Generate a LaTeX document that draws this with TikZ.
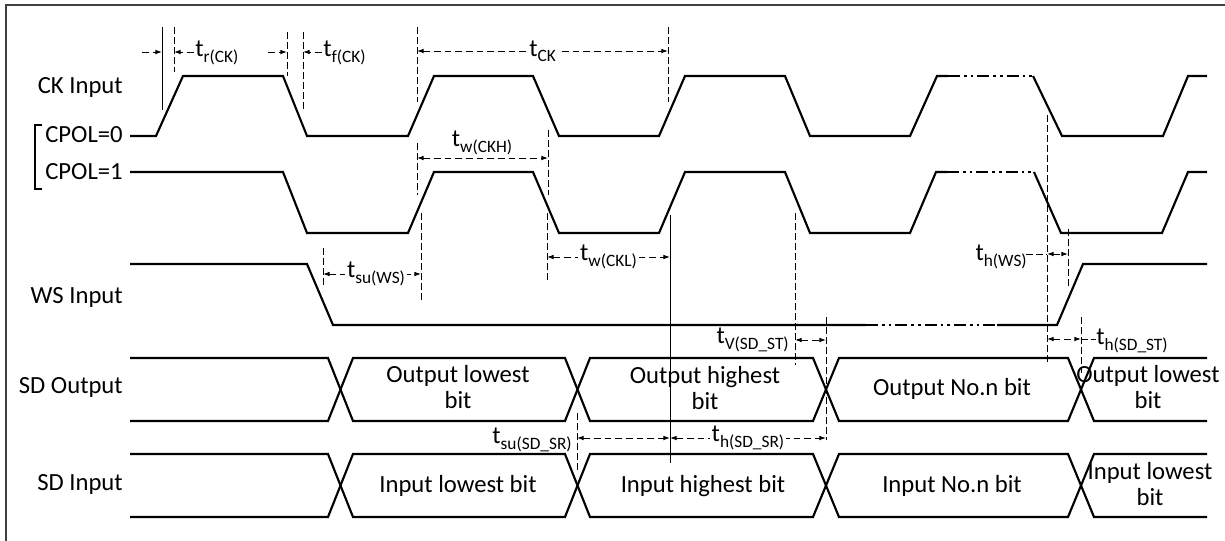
\documentclass[tikz,border=0pt]{standalone}
\usepackage{fontspec}
\setmainfont{Carlito}
\usetikzlibrary{arrows.meta}
\newcommand\tm[1]{t\raisebox{-4pt}{\fontsize{13}{13}\selectfont #1}}
\begin{document}
\begin{tikzpicture}[x=0.75pt,y=-0.75pt,
  sig/.style={line width=1.6pt, line join=miter},
  dd/.style={line width=1.6pt, dash pattern=on 9pt off 3pt on 2pt off 3pt on 2pt off 3pt},
  guide/.style={line width=0.7pt, dash pattern=on 5pt off 2.5pt},
  solidguide/.style={line width=0.7pt},
  dim/.style={line width=0.7pt, dash pattern=on 5pt off 3pt, {Latex[length=5pt,width=3.5pt]}-{Latex[length=5pt,width=3.5pt]}},
  rarr/.style={line width=0.7pt, dash pattern=on 5pt off 3pt, -{Latex[length=5pt,width=3.5pt]}},
  lbl/.style={font=\fontsize{18.5}{20}\selectfont, inner sep=0pt},
  dlbl/.style={font=\fontsize{18.5}{20}\selectfont, inner sep=0pt, align=center},
  tlab/.style={font=\fontsize{18.5}{20}\selectfont, inner sep=1.5pt},
  frame/.style={line width=1.1pt, draw=black!75}
]
\useasboundingbox (0,0) rectangle (1225,540);
\draw[frame] (6,545) -- (6,5) -- (1235,5);

% signal labels
\node[lbl,anchor=east] (ck) at (123,87) {CK Input};
\node[lbl,anchor=east] (c0) at (123,135) {CPOL=0};
\node[lbl,anchor=east] (c1) at (123,172) {CPOL=1};
\node[lbl,anchor=east] (ws) at (123,297) {WS Input};
\node[lbl,anchor=east] (sdo) at (123,387) {SD Output};
\node[lbl,anchor=east] (sdi) at (123,484) {SD Input};
\draw[line width=1.4pt] (42,125) -- (35,125) -- (35,189) -- (42,189);

% CK, CPOL=0
\draw[sig] (130,136) -- (156,136) -- (183,76) -- (283,76) -- (307,136) -- (408,136) -- (434,76) -- (533,76) -- (559,136) -- (659,136) -- (685,76) -- (785,76) -- (810,136) -- (910,136) -- (937,76) -- (948,76);
\draw[dd] (948,76) -- (1033,76);
\draw[sig] (1033,76) -- (1062,136) -- (1163,136) -- (1188,76) -- (1207,76);

% CK, CPOL=1
\draw[sig] (130,172) -- (283,172) -- (307,233) -- (408,233) -- (434,172) -- (533,172) -- (559,233) -- (659,233) -- (685,172) -- (785,172) -- (810,233) -- (910,233) -- (936,172) -- (947,172);
\draw[dd] (947,172) -- (1034,172);
\draw[sig] (1034,172) -- (1061,233) -- (1162,233) -- (1188,172) -- (1207,172);

% WS
\draw[sig] (130,264) -- (307,264) -- (333,325) -- (866,325);
\draw[dd] (866,325) -- (997,325);
\draw[sig] (997,325) -- (1057,325) -- (1083,264) -- (1207,264);

% SD Output
\draw[sig] (130,358) -- (328,358) -- (353,421) -- (565,421) -- (590,358) -- (813,358) -- (839,421) -- (1068,421) -- (1094,358) -- (1207,358);
\draw[sig] (130,421) -- (328,421) -- (353,358) -- (565,358) -- (590,421) -- (813,421) -- (839,358) -- (1068,358) -- (1094,421) -- (1207,421);
% SD Input
\draw[sig] (130,454) -- (328,454) -- (353,517) -- (565,517) -- (590,454) -- (813,454) -- (839,517) -- (1068,517) -- (1094,454) -- (1207,454);
\draw[sig] (130,517) -- (328,517) -- (353,454) -- (565,454) -- (590,517) -- (813,517) -- (839,454) -- (1068,454) -- (1094,517) -- (1207,517);

% data labels
\node[dlbl] (o1) at (458,387) {Output lowest\\bit};
\node[dlbl] (o2) at (705,388) {Output highest\\bit};
\node[dlbl] (o3) at (952,389) {Output No.n bit};
\node[dlbl] (o4) at (1148,387) {Output lowest\\bit};
\node[dlbl] (i1) at (458,486) {Input lowest bit};
\node[dlbl] (i2) at (703,486) {Input highest bit};
\node[dlbl] (i3) at (952,486) {Input No.n bit};
\node[dlbl] (i4) at (1150,484) {Input lowest\\bit};

% t_r(CK)
\draw[solidguide] (162,27) -- (162,110);
\draw[guide] (174,27) -- (174,72);
\draw[rarr] (142,52) -- (162,52);
\draw[rarr] (194,52) -- (174,52);
\node[tlab,anchor=west] (tr) at (193,53) {\tm{r(CK)}};

% t_f(CK)
\draw[guide] (287,32) -- (287,76);
\draw[guide] (303,32) -- (303,110);
\draw[rarr] (268,52) -- (287,52);
\draw[rarr] (322,52) -- (303,52);
\node[tlab,anchor=west] (tf) at (321,53) {\tm{f(CK)}};

% t_CK
\draw[guide] (417,27) -- (417,102);
\draw[guide] (668,27) -- (668,102);
\draw[dim] (417,51) -- node[tlab,fill=white] (tck) {\tm{CK}} (668,51);

% t_w(CKH)
\draw[guide] (417,143) -- (417,195);
\draw[guide] (548,130) -- (548,195);
\draw[dim] (417,158) -- (548,158);
\node[tlab] (twh) at (482,143) {\tm{w(CKH)}};

% t_w(CKL)
\draw[guide] (547,213) -- (547,280);
\draw[solidguide] (670,215) -- (670,463);
\draw[dim] (547,257) -- node[tlab,fill=white] (twl) {\tm{w(CKL)}} (670,257);

% t_su(WS)
\draw[guide] (323,248) -- (323,287);
\draw[guide] (421,213) -- (421,300);
\draw[dim] (323,274) -- node[tlab,fill=white,xshift=3pt] (tsuws) {\tm{su(WS)}} (421,274);

% t_h(WS)
\draw[guide] (1047,115) -- (1047,364);
\draw[guide] (1068,229) -- (1068,286);
\draw[dim] (1047,254) -- (1068,254);
\node[tlab,anchor=east] (thws) at (1029,257) {\tm{h(WS)}};
\draw[guide] (1026,254) -- (1047,254);

% t_V(SD_ST)
\draw[guide] (795,213) -- (795,365);
\draw[guide] (826,317) -- (826,440);
\draw[dim] (795,340) -- (826,340);
\node[tlab,anchor=east] (tvsd) at (791,340) {\tm{V(SD\_ST)}};

% t_h(SD_ST)
\draw[guide] (1081,317) -- (1081,373);
\draw[dim] (1047,339) -- (1081,339);
\draw[guide] (1081,339) -- (1096,339);
\node[tlab,anchor=west] (thsd) at (1094,341) {\tm{h(SD\_ST)}};

% t_su(SD_SR)
\draw[guide] (577,413) -- (577,472);
\draw[dim] (577,438) -- (670,438);
\node[tlab,anchor=east] (tsusd) at (574,440) {\tm{su(SD\_SR)}};

% t_h(SD_SR)
\draw[dim] (670,438) -- node[tlab,fill=white] (thsr) {\tm{h(SD\_SR)}} (826,438);
\end{tikzpicture}
\end{document}
